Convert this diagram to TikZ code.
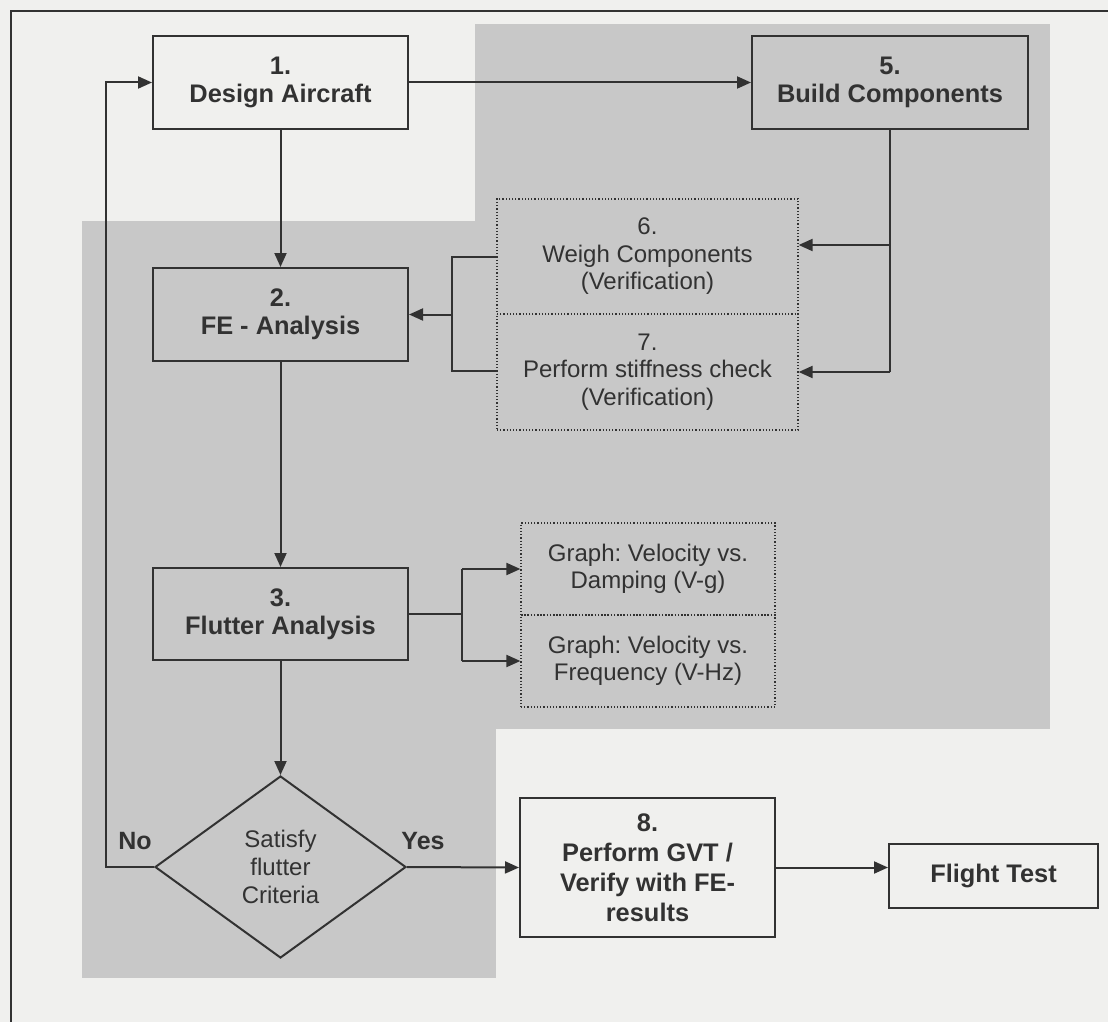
\documentclass[tikz,border=0pt]{standalone}
\usepackage{fontspec}
\setmainfont{Liberation Sans}
\usetikzlibrary{arrows.meta, shapes.geometric, positioning, calc}
\definecolor{paper}{RGB}{240,240,238}
\definecolor{panel}{RGB}{200,200,200}
\definecolor{ink}{RGB}{50,50,50}
\frenchspacing
\tikzset{
  box/.style={draw=ink, text=ink, line width=1pt, rectangle, inner sep=0pt, align=center,
    font=\fontsize{12.7}{14}\selectfont\bfseries, minimum width=#1},
  box/.default=127.5pt,
  dotbox/.style={draw=ink, text=ink, densely dotted, line width=0.6pt, rectangle, inner sep=0pt,
    align=center, font=\fontsize{12}{13.7}\selectfont},
  decision/.style={draw=ink, text=ink, line width=1pt, diamond, inner sep=0pt, align=center,
    font=\fontsize{12}{14}\selectfont},
  lbl/.style={font=\fontsize{12.5}{14}\selectfont\bfseries, text=ink},
  wire/.style={draw=ink, line width=1pt},
  arr/.style={wire, -{Triangle[length=7pt,width=6pt]}},
  edgeline/.style={draw=ink, line width=1pt},
}
\begin{document}
\begin{tikzpicture}[x=0.5pt,y=-0.5pt]
\fill[paper] (0,0) rectangle (1108,1022);
\useasboundingbox (0,0) rectangle (1108,1022);
\fill[panel] (475,24) rectangle (1050,729);
\fill[panel] (82,221) rectangle (496,978);
\draw[edgeline] (11,1022) -- (11,11) -- (1108,11);

\node[box, minimum height=46.5pt] (design) at (280.5,82.5) {1.\\Design Aircraft};
\node[box=138pt, minimum height=46.5pt] (build) at (890,82.5) {5.\\Build Components};
\node[box, minimum height=46.5pt] (fe) at (280.5,314.5) {2.\\FE - Analysis};
\node[box, minimum height=46pt] (flutter) at (280.5,614) {3.\\Flutter Analysis};
\node[dotbox, minimum width=150.5pt, minimum height=57.5pt] (weigh) at (647.5,256.5) {6.\\Weigh Components\\(Verification)};
\node[dotbox, minimum width=150.5pt, minimum height=58pt] (stiff) at (647.5,372) {7.\\Perform stiffness check\\(Verification)};
\node[dotbox, minimum width=127pt, minimum height=46pt] (vg) at (648,569) {Graph: Velocity vs.\\Damping (V-g)};
\node[dotbox, minimum width=127pt, minimum height=46pt] (vhz) at (648,661) {Graph: Velocity vs.\\Frequency (V-Hz)};
\node[decision, minimum width=125.5pt, minimum height=91pt] (crit) at (280.5,867) {Satisfy\\flutter\\Criteria};
\node[box, minimum height=69.5pt, font=\fontsize{12.7}{15}\selectfont\bfseries] (gvt) at (647.5,867.5) {8.\\Perform GVT /\\Verify with FE-\\results};
\node[box=104.5pt, minimum height=32pt] (flight) at (993.5,876) {Flight Test};
\node[lbl] (no) at (135,841) {No};
\node[lbl] (yes) at (423,841) {Yes};

\coordinate (j6) at (890,245);
\coordinate (j7) at (890,372);
\coordinate (k6) at (452,257);
\coordinate (k7) at (452,371);
\coordinate (m1) at (462,569);
\coordinate (m2) at (462,661);
\coordinate (back) at (106,500);

\draw[arr] (design.east) -- (build.west);
\draw[arr] (design.south) -- (fe.north);
\draw[wire] (build.south) -- (j7);
\draw[arr] (j6) -- (j6 -| weigh.east);
\draw[arr] (j7) -- (stiff.east);
\draw[wire] (k6 -| weigh.west) -- (k6) -- (k7) -- (k7 -| stiff.west);
\draw[arr] (k6 |- fe.east) -- (fe.east);
\draw[arr] (fe.south) -- (flutter.north);
\draw[wire] (flutter.east) -- (flutter.east -| m1);
\draw[wire] (m1) -- (m2);
\draw[arr] (m1) -- (vg.west);
\draw[arr] (m2) -- (vhz.west);
\draw[arr] (flutter.south) -- (crit.north);
\draw[arr] (crit.west) -| (back) |- (design.west);
\draw[arr] (crit.east) -- (gvt.west);
\draw[arr] (gvt.east) -- (gvt.east -| flight.west);
\end{tikzpicture}
\end{document}
